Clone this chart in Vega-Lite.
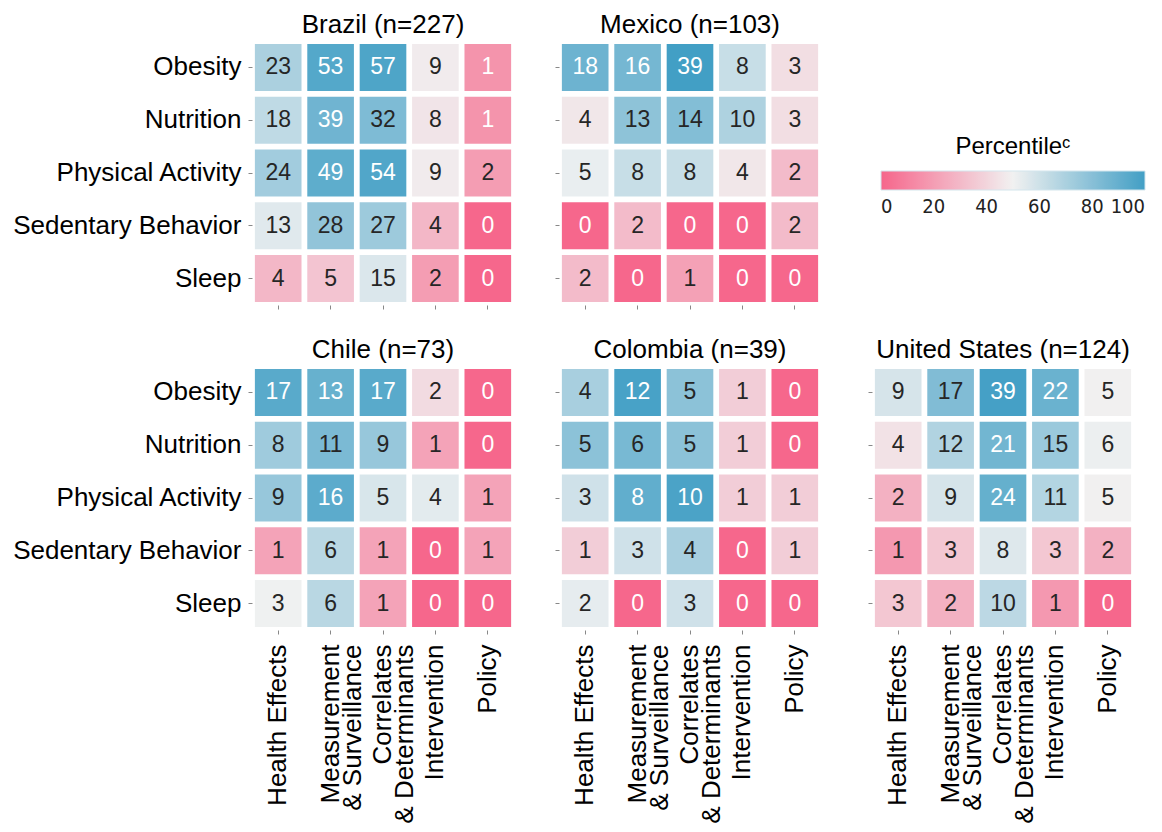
{
  "$schema": "https://vega.github.io/schema/vega-lite/v6.json",
  "padding": {"left": 12, "top": 12, "right": 0, "bottom": 0},
  "background": "white",
  "config": {
    "font": "Liberation Sans",
    "view": {"stroke": null},
    "axis": {"domain": false, "tickColor": "#888", "tickSize": 4, "tickWidth": 1, "labelFontSize": 26, "labelColor": "#000", "labelFont": "Liberation Sans", "labelPadding": 7, "labelLimit": 0, "title": null, "grid": false},
    "title": {"fontSize": 26, "fontWeight": "normal", "font": "Liberation Sans", "color": "#000", "offset": 3},
    "concat": {"spacing": 40}
  },
  "data": {"values": [
    {"c":"Brazil","t":"Obesity","k":"Health Effects","v":23,"s":10.132},
    {"c":"Brazil","t":"Obesity","k":"Measurement & Surveillance","v":53,"s":23.348},
    {"c":"Brazil","t":"Obesity","k":"Correlates & Determinants","v":57,"s":25.110},
    {"c":"Brazil","t":"Obesity","k":"Intervention","v":9,"s":3.965},
    {"c":"Brazil","t":"Obesity","k":"Policy","v":1,"s":0.441},
    {"c":"Brazil","t":"Nutrition","k":"Health Effects","v":18,"s":7.930},
    {"c":"Brazil","t":"Nutrition","k":"Measurement & Surveillance","v":39,"s":17.181},
    {"c":"Brazil","t":"Nutrition","k":"Correlates & Determinants","v":32,"s":14.097},
    {"c":"Brazil","t":"Nutrition","k":"Intervention","v":8,"s":3.524},
    {"c":"Brazil","t":"Nutrition","k":"Policy","v":1,"s":0.441},
    {"c":"Brazil","t":"Physical Activity","k":"Health Effects","v":24,"s":10.573},
    {"c":"Brazil","t":"Physical Activity","k":"Measurement & Surveillance","v":49,"s":21.586},
    {"c":"Brazil","t":"Physical Activity","k":"Correlates & Determinants","v":54,"s":23.789},
    {"c":"Brazil","t":"Physical Activity","k":"Intervention","v":9,"s":3.965},
    {"c":"Brazil","t":"Physical Activity","k":"Policy","v":2,"s":0.881},
    {"c":"Brazil","t":"Sedentary Behavior","k":"Health Effects","v":13,"s":5.727},
    {"c":"Brazil","t":"Sedentary Behavior","k":"Measurement & Surveillance","v":28,"s":12.335},
    {"c":"Brazil","t":"Sedentary Behavior","k":"Correlates & Determinants","v":27,"s":11.894},
    {"c":"Brazil","t":"Sedentary Behavior","k":"Intervention","v":4,"s":1.762},
    {"c":"Brazil","t":"Sedentary Behavior","k":"Policy","v":0,"s":0},
    {"c":"Brazil","t":"Sleep","k":"Health Effects","v":4,"s":1.762},
    {"c":"Brazil","t":"Sleep","k":"Measurement & Surveillance","v":5,"s":2.203},
    {"c":"Brazil","t":"Sleep","k":"Correlates & Determinants","v":15,"s":6.608},
    {"c":"Brazil","t":"Sleep","k":"Intervention","v":2,"s":0.881},
    {"c":"Brazil","t":"Sleep","k":"Policy","v":0,"s":0},

    {"c":"Mexico","t":"Obesity","k":"Health Effects","v":18,"s":17.476},
    {"c":"Mexico","t":"Obesity","k":"Measurement & Surveillance","v":16,"s":15.534},
    {"c":"Mexico","t":"Obesity","k":"Correlates & Determinants","v":39,"s":37.864},
    {"c":"Mexico","t":"Obesity","k":"Intervention","v":8,"s":7.767},
    {"c":"Mexico","t":"Obesity","k":"Policy","v":3,"s":2.913},
    {"c":"Mexico","t":"Nutrition","k":"Health Effects","v":4,"s":3.883},
    {"c":"Mexico","t":"Nutrition","k":"Measurement & Surveillance","v":13,"s":12.621},
    {"c":"Mexico","t":"Nutrition","k":"Correlates & Determinants","v":14,"s":13.592},
    {"c":"Mexico","t":"Nutrition","k":"Intervention","v":10,"s":9.709},
    {"c":"Mexico","t":"Nutrition","k":"Policy","v":3,"s":2.913},
    {"c":"Mexico","t":"Physical Activity","k":"Health Effects","v":5,"s":4.854},
    {"c":"Mexico","t":"Physical Activity","k":"Measurement & Surveillance","v":8,"s":7.767},
    {"c":"Mexico","t":"Physical Activity","k":"Correlates & Determinants","v":8,"s":7.767},
    {"c":"Mexico","t":"Physical Activity","k":"Intervention","v":4,"s":3.883},
    {"c":"Mexico","t":"Physical Activity","k":"Policy","v":2,"s":1.942},
    {"c":"Mexico","t":"Sedentary Behavior","k":"Health Effects","v":0,"s":0},
    {"c":"Mexico","t":"Sedentary Behavior","k":"Measurement & Surveillance","v":2,"s":1.942},
    {"c":"Mexico","t":"Sedentary Behavior","k":"Correlates & Determinants","v":0,"s":0},
    {"c":"Mexico","t":"Sedentary Behavior","k":"Intervention","v":0,"s":0},
    {"c":"Mexico","t":"Sedentary Behavior","k":"Policy","v":2,"s":1.942},
    {"c":"Mexico","t":"Sleep","k":"Health Effects","v":2,"s":1.942},
    {"c":"Mexico","t":"Sleep","k":"Measurement & Surveillance","v":0,"s":0},
    {"c":"Mexico","t":"Sleep","k":"Correlates & Determinants","v":1,"s":0.971},
    {"c":"Mexico","t":"Sleep","k":"Intervention","v":0,"s":0},
    {"c":"Mexico","t":"Sleep","k":"Policy","v":0,"s":0},

    {"c":"Chile","t":"Obesity","k":"Health Effects","v":17,"s":23.288},
    {"c":"Chile","t":"Obesity","k":"Measurement & Surveillance","v":13,"s":17.808},
    {"c":"Chile","t":"Obesity","k":"Correlates & Determinants","v":17,"s":23.288},
    {"c":"Chile","t":"Obesity","k":"Intervention","v":2,"s":2.740},
    {"c":"Chile","t":"Obesity","k":"Policy","v":0,"s":0},
    {"c":"Chile","t":"Nutrition","k":"Health Effects","v":8,"s":10.959},
    {"c":"Chile","t":"Nutrition","k":"Measurement & Surveillance","v":11,"s":15.068},
    {"c":"Chile","t":"Nutrition","k":"Correlates & Determinants","v":9,"s":12.329},
    {"c":"Chile","t":"Nutrition","k":"Intervention","v":1,"s":1.370},
    {"c":"Chile","t":"Nutrition","k":"Policy","v":0,"s":0},
    {"c":"Chile","t":"Physical Activity","k":"Health Effects","v":9,"s":12.329},
    {"c":"Chile","t":"Physical Activity","k":"Measurement & Surveillance","v":16,"s":21.918},
    {"c":"Chile","t":"Physical Activity","k":"Correlates & Determinants","v":5,"s":6.849},
    {"c":"Chile","t":"Physical Activity","k":"Intervention","v":4,"s":5.479},
    {"c":"Chile","t":"Physical Activity","k":"Policy","v":1,"s":1.370},
    {"c":"Chile","t":"Sedentary Behavior","k":"Health Effects","v":1,"s":1.370},
    {"c":"Chile","t":"Sedentary Behavior","k":"Measurement & Surveillance","v":6,"s":8.219},
    {"c":"Chile","t":"Sedentary Behavior","k":"Correlates & Determinants","v":1,"s":1.370},
    {"c":"Chile","t":"Sedentary Behavior","k":"Intervention","v":0,"s":0},
    {"c":"Chile","t":"Sedentary Behavior","k":"Policy","v":1,"s":1.370},
    {"c":"Chile","t":"Sleep","k":"Health Effects","v":3,"s":4.110},
    {"c":"Chile","t":"Sleep","k":"Measurement & Surveillance","v":6,"s":8.219},
    {"c":"Chile","t":"Sleep","k":"Correlates & Determinants","v":1,"s":1.370},
    {"c":"Chile","t":"Sleep","k":"Intervention","v":0,"s":0},
    {"c":"Chile","t":"Sleep","k":"Policy","v":0,"s":0},

    {"c":"Colombia","t":"Obesity","k":"Health Effects","v":4,"s":10.256},
    {"c":"Colombia","t":"Obesity","k":"Measurement & Surveillance","v":12,"s":30.769},
    {"c":"Colombia","t":"Obesity","k":"Correlates & Determinants","v":5,"s":12.821},
    {"c":"Colombia","t":"Obesity","k":"Intervention","v":1,"s":2.564},
    {"c":"Colombia","t":"Obesity","k":"Policy","v":0,"s":0},
    {"c":"Colombia","t":"Nutrition","k":"Health Effects","v":5,"s":12.821},
    {"c":"Colombia","t":"Nutrition","k":"Measurement & Surveillance","v":6,"s":15.385},
    {"c":"Colombia","t":"Nutrition","k":"Correlates & Determinants","v":5,"s":12.821},
    {"c":"Colombia","t":"Nutrition","k":"Intervention","v":1,"s":2.564},
    {"c":"Colombia","t":"Nutrition","k":"Policy","v":0,"s":0},
    {"c":"Colombia","t":"Physical Activity","k":"Health Effects","v":3,"s":7.692},
    {"c":"Colombia","t":"Physical Activity","k":"Measurement & Surveillance","v":8,"s":20.513},
    {"c":"Colombia","t":"Physical Activity","k":"Correlates & Determinants","v":10,"s":25.641},
    {"c":"Colombia","t":"Physical Activity","k":"Intervention","v":1,"s":2.564},
    {"c":"Colombia","t":"Physical Activity","k":"Policy","v":1,"s":2.564},
    {"c":"Colombia","t":"Sedentary Behavior","k":"Health Effects","v":1,"s":2.564},
    {"c":"Colombia","t":"Sedentary Behavior","k":"Measurement & Surveillance","v":3,"s":7.692},
    {"c":"Colombia","t":"Sedentary Behavior","k":"Correlates & Determinants","v":4,"s":10.256},
    {"c":"Colombia","t":"Sedentary Behavior","k":"Intervention","v":0,"s":0},
    {"c":"Colombia","t":"Sedentary Behavior","k":"Policy","v":1,"s":2.564},
    {"c":"Colombia","t":"Sleep","k":"Health Effects","v":2,"s":5.128},
    {"c":"Colombia","t":"Sleep","k":"Measurement & Surveillance","v":0,"s":0},
    {"c":"Colombia","t":"Sleep","k":"Correlates & Determinants","v":3,"s":7.692},
    {"c":"Colombia","t":"Sleep","k":"Intervention","v":0,"s":0},
    {"c":"Colombia","t":"Sleep","k":"Policy","v":0,"s":0},

    {"c":"United States","t":"Obesity","k":"Health Effects","v":9,"s":7.258},
    {"c":"United States","t":"Obesity","k":"Measurement & Surveillance","v":17,"s":13.710},
    {"c":"United States","t":"Obesity","k":"Correlates & Determinants","v":39,"s":31.452},
    {"c":"United States","t":"Obesity","k":"Intervention","v":22,"s":17.742},
    {"c":"United States","t":"Obesity","k":"Policy","v":5,"s":4.032},
    {"c":"United States","t":"Nutrition","k":"Health Effects","v":4,"s":3.226},
    {"c":"United States","t":"Nutrition","k":"Measurement & Surveillance","v":12,"s":9.677},
    {"c":"United States","t":"Nutrition","k":"Correlates & Determinants","v":21,"s":16.935},
    {"c":"United States","t":"Nutrition","k":"Intervention","v":15,"s":12.097},
    {"c":"United States","t":"Nutrition","k":"Policy","v":6,"s":4.839},
    {"c":"United States","t":"Physical Activity","k":"Health Effects","v":2,"s":1.613},
    {"c":"United States","t":"Physical Activity","k":"Measurement & Surveillance","v":9,"s":7.258},
    {"c":"United States","t":"Physical Activity","k":"Correlates & Determinants","v":24,"s":19.355},
    {"c":"United States","t":"Physical Activity","k":"Intervention","v":11,"s":8.871},
    {"c":"United States","t":"Physical Activity","k":"Policy","v":5,"s":4.032},
    {"c":"United States","t":"Sedentary Behavior","k":"Health Effects","v":1,"s":0.806},
    {"c":"United States","t":"Sedentary Behavior","k":"Measurement & Surveillance","v":3,"s":2.419},
    {"c":"United States","t":"Sedentary Behavior","k":"Correlates & Determinants","v":8,"s":6.452},
    {"c":"United States","t":"Sedentary Behavior","k":"Intervention","v":3,"s":2.419},
    {"c":"United States","t":"Sedentary Behavior","k":"Policy","v":2,"s":1.613},
    {"c":"United States","t":"Sleep","k":"Health Effects","v":3,"s":2.419},
    {"c":"United States","t":"Sleep","k":"Measurement & Surveillance","v":2,"s":1.613},
    {"c":"United States","t":"Sleep","k":"Correlates & Determinants","v":10,"s":8.065},
    {"c":"United States","t":"Sleep","k":"Intervention","v":1,"s":0.806},
    {"c":"United States","t":"Sleep","k":"Policy","v":0,"s":0}
  ]},
  "transform": [
    {"window": [{"op": "percent_rank", "as": "pct"}], "sort": [{"field": "s", "order": "ascending"}]}
  ],
  "resolve": {"scale": {"color": "shared"}, "legend": {"color": "shared"}},
  "spacing": 27,
  "vconcat": [
    {
      "spacing": 40,
      "resolve": {"scale": {"color": "shared"}, "legend": {"color": "shared"}},
      "hconcat": [
        {
          "title": "Brazil (n=227)", "width": 262, "height": 264,
          "transform": [{"filter": "datum.c == 'Brazil'"}],
          "encoding": {
            "x": {"field": "k", "type": "nominal", "sort": ["Health Effects", "Measurement & Surveillance", "Correlates & Determinants", "Intervention", "Policy"], "scale": {"paddingInner": 0.11, "paddingOuter": 0.055}, "axis": {"labels": false}},
            "y": {"field": "t", "type": "nominal", "sort": ["Obesity", "Nutrition", "Physical Activity", "Sedentary Behavior", "Sleep"], "scale": {"paddingInner": 0.11, "paddingOuter": 0.055}}
          },
          "layer": [
            {"mark": {"type": "rect", "opacity": 0.9}, "encoding": {"color": {"field": "pct", "type": "quantitative", "scale": {"domain": [0, 0.5, 1], "range": ["#f5567f", "#f0f0f0", "#2e95bf"], "interpolate": "rgb"}, "legend": {"title": "Percentileᶜ", "orient": "none", "direction": "horizontal", "legendX": 629, "legendY": 94, "gradientLength": 264, "gradientThickness": 19, "gradientStrokeColor": "#cfe3ec", "gradientStrokeWidth": 1, "values": [0, 0.2, 0.4, 0.6, 0.8, 1], "labelExpr": "format(datum.value*100, 'd')", "labelAlign": "center", "labelFont": "DejaVu Sans Condensed, Liberation Sans Narrow, Liberation Sans", "labelFontSize": 20, "labelColor": "#222", "labelOverlap": false, "labelOffset": 7, "titleFontSize": 24, "titleFontWeight": "normal", "titleColor": "#000", "titleFont": "Liberation Sans", "titleAnchor": "middle", "titlePadding": 12, "encode": {"labels": {"update": {"align": {"value": "center"}}}}}}}},
            {"mark": {"type": "text", "fontSize": 23}, "encoding": {"text": {"field": "v", "type": "quantitative"}, "color": {"condition": {"test": "datum.pct < 0.17 || datum.pct > 0.85", "value": "#ffffff"}, "value": "#262626"}}}
          ]
        },
        {
          "title": "Mexico (n=103)", "width": 262, "height": 264,
          "transform": [{"filter": "datum.c == 'Mexico'"}],
          "encoding": {
            "x": {"field": "k", "type": "nominal", "sort": ["Health Effects", "Measurement & Surveillance", "Correlates & Determinants", "Intervention", "Policy"], "scale": {"paddingInner": 0.11, "paddingOuter": 0.055}, "axis": {"labels": false}},
            "y": {"field": "t", "type": "nominal", "sort": ["Obesity", "Nutrition", "Physical Activity", "Sedentary Behavior", "Sleep"], "scale": {"paddingInner": 0.11, "paddingOuter": 0.055}, "axis": {"labels": false}}
          },
          "layer": [
            {"mark": {"type": "rect", "opacity": 0.9}, "encoding": {"color": {"field": "pct", "type": "quantitative", "scale": {"domain": [0, 0.5, 1], "range": ["#f5567f", "#f0f0f0", "#2e95bf"], "interpolate": "rgb"}, "legend": null}}},
            {"mark": {"type": "text", "fontSize": 23}, "encoding": {"text": {"field": "v", "type": "quantitative"}, "color": {"condition": {"test": "datum.pct < 0.17 || datum.pct > 0.85", "value": "#ffffff"}, "value": "#262626"}}}
          ]
        }
      ]
    },
    {
      "spacing": 40,
      "resolve": {"scale": {"color": "shared"}, "legend": {"color": "shared"}},
      "hconcat": [
        {
          "title": "Chile (n=73)", "width": 262, "height": 264,
          "transform": [{"filter": "datum.c == 'Chile'"}],
          "encoding": {
            "x": {"field": "k", "type": "nominal", "sort": ["Health Effects", "Measurement & Surveillance", "Correlates & Determinants", "Intervention", "Policy"], "scale": {"paddingInner": 0.11, "paddingOuter": 0.055}, "axis": {"labelAngle": -90, "labelAlign": "right", "labelBaseline": "middle", "labelLineHeight": 22, "labelPadding": 10, "labelExpr": "datum.label == 'Measurement & Surveillance' ? ['Measurement', '& Surveillance'] : datum.label == 'Correlates & Determinants' ? ['Correlates', '& Determinants'] : datum.label"}},
            "y": {"field": "t", "type": "nominal", "sort": ["Obesity", "Nutrition", "Physical Activity", "Sedentary Behavior", "Sleep"], "scale": {"paddingInner": 0.11, "paddingOuter": 0.055}}
          },
          "layer": [
            {"mark": {"type": "rect", "opacity": 0.9}, "encoding": {"color": {"field": "pct", "type": "quantitative", "scale": {"domain": [0, 0.5, 1], "range": ["#f5567f", "#f0f0f0", "#2e95bf"], "interpolate": "rgb"}, "legend": null}}},
            {"mark": {"type": "text", "fontSize": 23}, "encoding": {"text": {"field": "v", "type": "quantitative"}, "color": {"condition": {"test": "datum.pct < 0.17 || datum.pct > 0.85", "value": "#ffffff"}, "value": "#262626"}}}
          ]
        },
        {
          "spacing": 46,
          "resolve": {"scale": {"color": "shared"}, "legend": {"color": "shared"}},
          "hconcat": [
            {
              "title": "Colombia (n=39)", "width": 262, "height": 264,
              "transform": [{"filter": "datum.c == 'Colombia'"}],
              "encoding": {
                "x": {"field": "k", "type": "nominal", "sort": ["Health Effects", "Measurement & Surveillance", "Correlates & Determinants", "Intervention", "Policy"], "scale": {"paddingInner": 0.11, "paddingOuter": 0.055}, "axis": {"labelAngle": -90, "labelAlign": "right", "labelBaseline": "middle", "labelLineHeight": 22, "labelPadding": 10, "labelExpr": "datum.label == 'Measurement & Surveillance' ? ['Measurement', '& Surveillance'] : datum.label == 'Correlates & Determinants' ? ['Correlates', '& Determinants'] : datum.label"}},
                "y": {"field": "t", "type": "nominal", "sort": ["Obesity", "Nutrition", "Physical Activity", "Sedentary Behavior", "Sleep"], "scale": {"paddingInner": 0.11, "paddingOuter": 0.055}, "axis": {"labels": false}}
              },
              "layer": [
                {"mark": {"type": "rect", "opacity": 0.9}, "encoding": {"color": {"field": "pct", "type": "quantitative", "scale": {"domain": [0, 0.5, 1], "range": ["#f5567f", "#f0f0f0", "#2e95bf"], "interpolate": "rgb"}, "legend": null}}},
                {"mark": {"type": "text", "fontSize": 23}, "encoding": {"text": {"field": "v", "type": "quantitative"}, "color": {"condition": {"test": "datum.pct < 0.17 || datum.pct > 0.85", "value": "#ffffff"}, "value": "#262626"}}}
              ]
            },
            {
              "title": "United States (n=124)", "width": 262, "height": 264,
              "transform": [{"filter": "datum.c == 'United States'"}],
              "encoding": {
                "x": {"field": "k", "type": "nominal", "sort": ["Health Effects", "Measurement & Surveillance", "Correlates & Determinants", "Intervention", "Policy"], "scale": {"paddingInner": 0.11, "paddingOuter": 0.055}, "axis": {"labelAngle": -90, "labelAlign": "right", "labelBaseline": "middle", "labelLineHeight": 22, "labelPadding": 10, "labelExpr": "datum.label == 'Measurement & Surveillance' ? ['Measurement', '& Surveillance'] : datum.label == 'Correlates & Determinants' ? ['Correlates', '& Determinants'] : datum.label"}},
                "y": {"field": "t", "type": "nominal", "sort": ["Obesity", "Nutrition", "Physical Activity", "Sedentary Behavior", "Sleep"], "scale": {"paddingInner": 0.11, "paddingOuter": 0.055}, "axis": {"labels": false}}
              },
              "layer": [
                {"mark": {"type": "rect", "opacity": 0.9}, "encoding": {"color": {"field": "pct", "type": "quantitative", "scale": {"domain": [0, 0.5, 1], "range": ["#f5567f", "#f0f0f0", "#2e95bf"], "interpolate": "rgb"}, "legend": null}}},
                {"mark": {"type": "text", "fontSize": 23}, "encoding": {"text": {"field": "v", "type": "quantitative"}, "color": {"condition": {"test": "datum.pct < 0.17 || datum.pct > 0.85", "value": "#ffffff"}, "value": "#262626"}}}
              ]
            }
          ]
        }
      ]
    }
  ]
}
